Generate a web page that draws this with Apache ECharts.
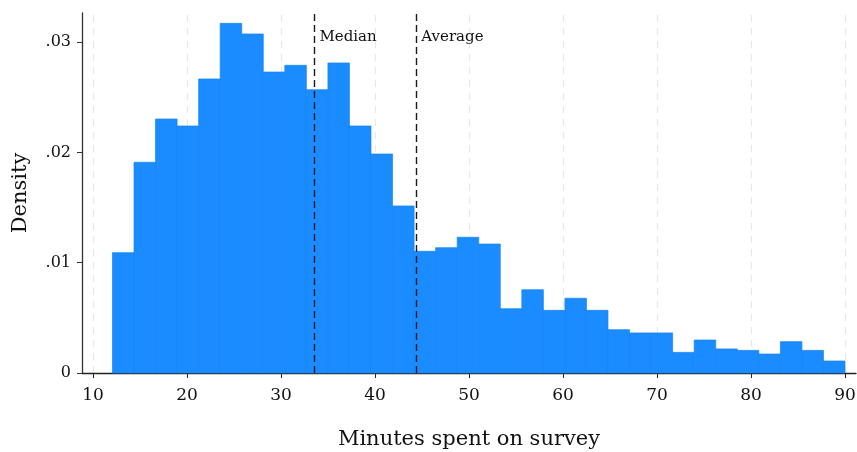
<!DOCTYPE html>
<html>
<head>
<meta charset="utf-8">
<script src="https://cdn.jsdelivr.net/npm/echarts@6/dist/echarts.min.js"></script>
<style>
  html, body { margin: 0; padding: 0; background: #fff; }
  #chart { width: 857px; height: 452px; }
</style>
</head>
<body>
<div id="chart"></div>
<script>
// Histogram of survey completion times (density scale)
const binStart = 12.07;
const binWidth = 2.2921;
const density = [
  0.01091, 0.01910, 0.02302, 0.02239, 0.02665, 0.03169, 0.03073, 0.02728,
  0.02789, 0.02568, 0.02810, 0.02239, 0.01985, 0.01514, 0.01103, 0.01136,
  0.01230, 0.01169, 0.00583, 0.00755, 0.00568, 0.00677, 0.00568, 0.00393,
  0.00363, 0.00363, 0.00187, 0.00299, 0.00218, 0.00205, 0.00172, 0.00284,
  0.00205, 0.00109
];
const xTicks = [10, 20, 30, 40, 50, 60, 70, 80, 90];
const yTicks = [0, 0.01, 0.02, 0.03];
const medianValue = 33.56;
const averageValue = 44.4;
const markerLabelY = 0.03045;

const serif = "'DejaVu Serif', 'Liberation Serif', serif";

const bins = density.map((d, i) => [binStart + i * binWidth, binStart + (i + 1) * binWidth, d]);

const chart = echarts.init(document.getElementById('chart'), null, { renderer: 'canvas' });

chart.setOption({
  animation: false,
  backgroundColor: '#fff',
  grid: { left: 82, right: 1, top: 13, bottom: 79, containLabel: false, outerBoundsMode: 'none' },
  xAxis: {
    type: 'value',
    min: 8.83,
    max: 91.17,
    name: 'Minutes spent on survey',
    nameLocation: 'middle',
    nameGap: 56,
    nameTextStyle: { fontFamily: serif, fontSize: 21, color: '#111' },
    axisLine: { show: true, lineStyle: { color: '#222', width: 1.3 } },
    axisTick: { show: true, length: 5, customValues: xTicks, lineStyle: { color: '#222' } },
    axisLabel: {
      customValues: xTicks,
      margin: 14,
      fontFamily: serif, fontSize: 17, color: '#111'
    },
    splitLine: { show: false }
  },
  yAxis: {
    type: 'value',
    min: 0,
    max: 0.03263,
    name: 'Density',
    nameLocation: 'middle',
    nameGap: 51,
    nameTextStyle: { fontFamily: serif, fontSize: 21, color: '#111' },
    axisLine: { show: true, lineStyle: { color: '#333', width: 1.3 } },
    axisTick: { show: true, length: 5, customValues: yTicks, lineStyle: { color: '#333' } },
    axisLabel: {
      customValues: yTicks,
      margin: 11,
      fontFamily: serif, fontSize: 16, color: '#111',
      formatter: v => (v === 0 ? '0' : String(+v.toFixed(2)).replace(/^0/, ''))
    },
    splitLine: { show: false }
  },
  series: [
    {
      // light dashed vertical reference lines at each x tick
      type: 'line',
      data: [],
      silent: true,
      z: 0,
      markLine: {
        symbol: 'none',
        silent: true,
        z: 0,
        label: { show: false },
        lineStyle: { color: '#e8e8e8', type: [7, 6], width: 1.2 },
        data: xTicks.map(v => ({ xAxis: v }))
      }
    },
    {
      type: 'custom',
      renderItem: (params, api) => {
        const p0 = api.coord([api.value(0), api.value(2)]);
        const p1 = api.coord([api.value(1), 0]);
        return {
          type: 'rect',
          shape: { x: p0[0], y: p0[1], width: p1[0] - p0[0], height: p1[1] - p0[1] },
          style: { fill: '#1a8cff', stroke: '#1784f2', lineWidth: 0.7 }
        };
      },
      encode: { x: [0, 1], y: 2 },
      data: bins,
      z: 5
    },
    {
      // median and average markers
      type: 'line',
      data: [],
      z: 10,
      markLine: {
        symbol: 'none',
        silent: true,
        z: 10,
        lineStyle: { color: '#1a1a1a', type: [7, 4], width: 1.4 },
        label: { show: false },
        data: [{ xAxis: medianValue }, { xAxis: averageValue }]
      },
      markPoint: {
        symbol: 'circle',
        symbolSize: 0,
        silent: true,
        z: 10,
        label: {
          show: true,
          position: 'right',
          distance: 5,
          fontFamily: serif, fontSize: 15, color: '#111'
        },
        data: [
          { coord: [medianValue, markerLabelY], value: 'Median', label: { formatter: 'Median' } },
          { coord: [averageValue, markerLabelY], value: 'Average', label: { formatter: 'Average' } }
        ]
      }
    }
  ]
});
</script>
</body>
</html>
